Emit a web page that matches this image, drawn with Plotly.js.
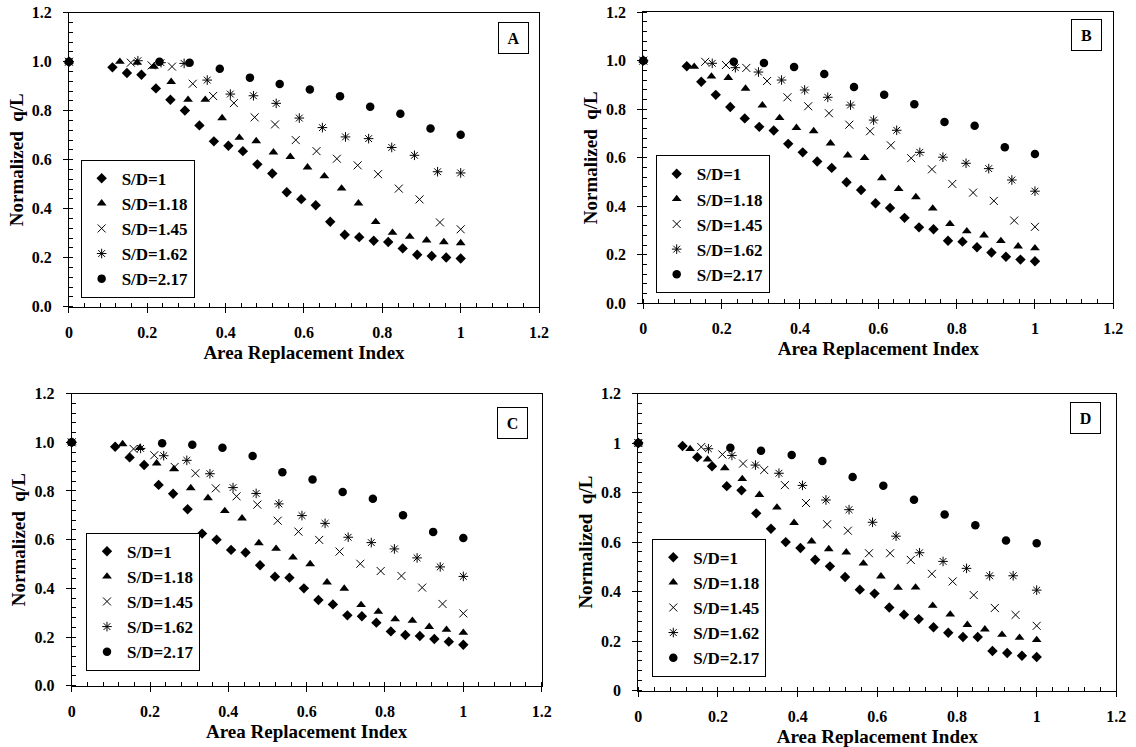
<!DOCTYPE html>
<html>
<head>
<meta charset="utf-8">
<script src="https://cdn.plot.ly/plotly-3.0.1.min.js"></script>
<style>html,body{margin:0;padding:0;background:#fff;}#chart{width:1136px;height:747px;}</style>
</head>
<body>
<div id="chart"></div>
<script>
// ---- series names ----
const seriesNames = ['S/D=1', 'S/D=1.18', 'S/D=1.45', 'S/D=1.62', 'S/D=2.17'];
const panelLabels = ['A', 'B', 'C', 'D'];
const xTitle = 'Area Replacement Index';
const yTitle = 'Normalized  q/L';

// ---- x values (area replacement index) per series ----
const x_SD1 = [0, 0.111, 0.148, 0.185, 0.222, 0.259, 0.296, 0.333, 0.370, 0.407, 0.444, 0.481, 0.519, 0.556, 0.593, 0.630, 0.667, 0.704, 0.741, 0.778, 0.815, 0.852, 0.889, 0.926, 0.963, 1.0];
const x_SD118 = [0, 0.130, 0.174, 0.217, 0.261, 0.304, 0.348, 0.391, 0.435, 0.478, 0.522, 0.565, 0.609, 0.652, 0.696, 0.739, 0.783, 0.826, 0.870, 0.913, 0.957, 1.0];
const x_SD145 = [0, 0.158, 0.211, 0.263, 0.316, 0.368, 0.421, 0.474, 0.526, 0.579, 0.632, 0.684, 0.737, 0.789, 0.842, 0.895, 0.947, 1.0];
const x_SD162 = [0, 0.176, 0.235, 0.294, 0.353, 0.412, 0.471, 0.529, 0.588, 0.647, 0.706, 0.765, 0.824, 0.882, 0.941, 1.0];
const x_SD217 = [0, 0.231, 0.308, 0.385, 0.462, 0.538, 0.615, 0.692, 0.769, 0.846, 0.923, 1.0];

// ---- Panel A: normalized q/L ----
const yA_SD1 = [1, 0.977, 0.954, 0.947, 0.891, 0.845, 0.801, 0.740, 0.675, 0.657, 0.635, 0.581, 0.544, 0.467, 0.439, 0.414, 0.347, 0.294, 0.284, 0.269, 0.264, 0.238, 0.212, 0.207, 0.201, 0.197];
const yA_SD118 = [1, 1.0, 0.996, 0.980, 0.918, 0.845, 0.845, 0.770, 0.690, 0.676, 0.630, 0.612, 0.569, 0.533, 0.483, 0.422, 0.346, 0.302, 0.286, 0.271, 0.264, 0.260];
const yA_SD145 = [1, 0.996, 0.985, 0.980, 0.910, 0.860, 0.831, 0.773, 0.744, 0.680, 0.635, 0.604, 0.577, 0.541, 0.482, 0.438, 0.344, 0.316];
const yA_SD162 = [1, 1.004, 0.996, 0.993, 0.925, 0.868, 0.861, 0.830, 0.770, 0.731, 0.693, 0.686, 0.650, 0.618, 0.551, 0.546];
const yA_SD217 = [1, 1.0, 0.996, 0.971, 0.935, 0.909, 0.887, 0.859, 0.816, 0.788, 0.727, 0.702];

// ---- Panel B ----
const yB_SD1 = [1, 0.977, 0.913, 0.859, 0.809, 0.762, 0.727, 0.712, 0.657, 0.622, 0.584, 0.558, 0.499, 0.467, 0.412, 0.393, 0.352, 0.313, 0.305, 0.258, 0.254, 0.231, 0.209, 0.192, 0.180, 0.173];
const yB_SD118 = [1, 0.975, 0.935, 0.929, 0.885, 0.816, 0.764, 0.723, 0.710, 0.659, 0.610, 0.599, 0.516, 0.471, 0.438, 0.391, 0.327, 0.297, 0.280, 0.257, 0.235, 0.227];
const yB_SD145 = [1, 0.995, 0.982, 0.970, 0.916, 0.849, 0.812, 0.783, 0.736, 0.709, 0.651, 0.598, 0.552, 0.492, 0.456, 0.422, 0.341, 0.315];
const yB_SD162 = [1, 0.989, 0.971, 0.953, 0.920, 0.879, 0.849, 0.817, 0.755, 0.713, 0.622, 0.602, 0.577, 0.555, 0.508, 0.462];
const yB_SD217 = [1, 0.995, 0.990, 0.974, 0.945, 0.891, 0.859, 0.820, 0.747, 0.732, 0.643, 0.615];

// ---- Panel C ----
const yC_SD1 = [1, 0.982, 0.938, 0.907, 0.825, 0.789, 0.725, 0.625, 0.600, 0.558, 0.547, 0.495, 0.448, 0.444, 0.400, 0.352, 0.334, 0.289, 0.285, 0.259, 0.223, 0.208, 0.204, 0.192, 0.181, 0.168];
const yC_SD118 = [1, 0.993, 0.977, 0.914, 0.890, 0.812, 0.771, 0.718, 0.688, 0.586, 0.563, 0.527, 0.500, 0.425, 0.399, 0.332, 0.304, 0.273, 0.267, 0.242, 0.230, 0.218];
const yC_SD145 = [1, 0.973, 0.947, 0.899, 0.873, 0.811, 0.778, 0.744, 0.678, 0.633, 0.599, 0.551, 0.501, 0.471, 0.451, 0.403, 0.336, 0.297];
const yC_SD162 = [1, 0.975, 0.945, 0.926, 0.871, 0.814, 0.790, 0.747, 0.699, 0.667, 0.610, 0.588, 0.562, 0.525, 0.488, 0.449];
const yC_SD217 = [1, 0.996, 0.990, 0.978, 0.944, 0.877, 0.847, 0.796, 0.768, 0.700, 0.632, 0.607];

// ---- Panel D ----
const yD_SD1 = [1, 0.988, 0.943, 0.906, 0.826, 0.809, 0.716, 0.654, 0.600, 0.576, 0.529, 0.502, 0.459, 0.408, 0.392, 0.336, 0.307, 0.289, 0.256, 0.234, 0.217, 0.217, 0.160, 0.152, 0.141, 0.136];
const yD_SD118 = [1, 0.976, 0.934, 0.899, 0.855, 0.791, 0.740, 0.678, 0.603, 0.572, 0.559, 0.514, 0.462, 0.416, 0.417, 0.343, 0.308, 0.266, 0.248, 0.226, 0.214, 0.205];
const yD_SD145 = [1, 0.984, 0.954, 0.917, 0.891, 0.830, 0.758, 0.672, 0.646, 0.555, 0.555, 0.528, 0.472, 0.441, 0.386, 0.334, 0.306, 0.262];
const yD_SD162 = [1, 0.977, 0.950, 0.911, 0.878, 0.829, 0.770, 0.731, 0.680, 0.624, 0.557, 0.522, 0.494, 0.464, 0.464, 0.406];
const yD_SD217 = [1, 0.981, 0.969, 0.952, 0.927, 0.863, 0.828, 0.771, 0.711, 0.668, 0.606, 0.595];

// ---- assemble ----
const xSets = [x_SD1, x_SD118, x_SD145, x_SD162, x_SD217];
const ySets = [
  [yA_SD1, yA_SD118, yA_SD145, yA_SD162, yA_SD217],
  [yB_SD1, yB_SD118, yB_SD145, yB_SD162, yB_SD217],
  [yC_SD1, yC_SD118, yC_SD145, yC_SD162, yC_SD217],
  [yD_SD1, yD_SD118, yD_SD145, yD_SD162, yD_SD217]
];

const FONT = 'Liberation Serif';
const markerStyles = [
  {symbol: 'diamond', size: 8, color: '#000'},
  {symbol: 'triangle-up', size: 8.5, color: '#000'},
  {symbol: 'x-thin-open', size: 8, color: '#000', line: {width: 1, color: '#000'}},
  {symbol: 'asterisk-open', size: 8, color: '#000', line: {width: 1, color: '#000'}},
  {symbol: 'circle', size: 8.5, color: '#000'}
];

// panel geometry (paper fractions)
const panelDom = [
  {x: [0.0607, 0.4745], y: [0.5894, 0.9830]},
  {x: [0.5663, 0.9800], y: [0.5940, 0.9838]},
  {x: [0.0631, 0.4768], y: [0.0821, 0.4730]},
  {x: [0.5619, 0.9827], y: [0.0754, 0.4732]}
];
const legendPos = [
  {x: 0.0710, y: 0.6015},
  {x: 0.5772, y: 0.6074},
  {x: 0.0757, y: 0.1021},
  {x: 0.5742, y: 0.0941}
];
const labelPos = [
  {x: 0.4657, y: 0.9705},
  {x: 0.9698, y: 0.9742},
  {x: 0.4651, y: 0.4556},
  {x: 0.9689, y: 0.4614}
];
const yTickFormats = ['.1f', '.1f', '.1f', ''];

const data = [];
const layout = {
  width: 1136, height: 747,
  margin: {l: 0, r: 0, t: 0, b: 0},
  paper_bgcolor: '#fff', plot_bgcolor: '#fff',
  font: {family: FONT, color: '#000'},
  annotations: []
};

const tickFont = {family: FONT, size: 16, weight: 'bold', color: '#000'};
const titleFont = {family: FONT, size: 19, weight: 'bold', color: '#000'};

for (let p = 0; p < 4; p++) {
  const n = p + 1;
  const xid = n === 1 ? 'x' : 'x' + n;
  const yid = n === 1 ? 'y' : 'y' + n;
  const legId = n === 1 ? 'legend' : 'legend' + n;
  for (let s = 0; s < 5; s++) {
    data.push({
      type: 'scatter', mode: 'markers',
      x: xSets[s], y: ySets[p][s],
      name: seriesNames[s],
      marker: markerStyles[s],
      xaxis: xid, yaxis: yid,
      legend: legId,
      cliponaxis: false,
      hoverinfo: 'x+y+name'
    });
  }
  layout['xaxis' + (n === 1 ? '' : n)] = {
    domain: panelDom[p].x, anchor: yid,
    range: [0, 1.2], tick0: 0, dtick: 0.2,
    ticks: 'outside', ticklen: 5, tickwidth: 1, tickcolor: '#000',
    minor: {dtick: 0.04, ticks: 'inside', ticklen: 4, tickwidth: 1, tickcolor: '#000', showgrid: false},
    showline: true, linecolor: '#000', linewidth: 1, mirror: true,
    showgrid: false, zeroline: false,
    tickfont: tickFont, ticklabelstandoff: 6,
    title: {text: xTitle, font: titleFont, standoff: 5}
  };
  layout['yaxis' + (n === 1 ? '' : n)] = {
    domain: panelDom[p].y, anchor: xid,
    range: [0, 1.2], tick0: 0, dtick: 0.2, tickformat: yTickFormats[p],
    ticks: 'outside', ticklen: 5, tickwidth: 1, tickcolor: '#000',
    minor: {dtick: 0.04, ticks: 'inside', ticklen: 4, tickwidth: 1, tickcolor: '#000', showgrid: false},
    showline: true, linecolor: '#000', linewidth: 1, mirror: true,
    showgrid: false, zeroline: false,
    tickfont: tickFont, ticklabelstandoff: 8,
    title: {text: yTitle, font: titleFont, standoff: 3}
  };
  // overlay axes giving inward half of the major ticks (crossing ticks)
  layout['xaxis' + (n + 4)] = {
    overlaying: xid, anchor: yid, range: [0, 1.2], tick0: 0, dtick: 0.2,
    ticks: 'inside', ticklen: 5, tickwidth: 1, tickcolor: '#000',
    showticklabels: false, showline: false, showgrid: false, zeroline: false
  };
  layout['yaxis' + (n + 4)] = {
    overlaying: yid, anchor: xid, range: [0, 1.2], tick0: 0, dtick: 0.2,
    ticks: 'inside', ticklen: 5, tickwidth: 1, tickcolor: '#000',
    showticklabels: false, showline: false, showgrid: false, zeroline: false
  };
  layout[legId] = {
    x: legendPos[p].x, y: legendPos[p].y, xanchor: 'left', yanchor: 'bottom',
    xref: 'paper', yref: 'paper',
    bgcolor: '#fff', bordercolor: '#000', borderwidth: 1,
    font: {family: FONT, size: 17, weight: 'bold', color: '#000'},
    itemwidth: 30, tracegroupgap: 0
  };
  layout.annotations.push({
    xref: 'paper', yref: 'paper', x: labelPos[p].x, y: labelPos[p].y,
    xanchor: 'right', yanchor: 'top', showarrow: false,
    text: panelLabels[p], font: {family: FONT, size: 16, weight: 'bold', color: '#000'},
    bordercolor: '#000', borderwidth: 1, borderpad: 1, bgcolor: '#fff',
    width: 27, height: 28, align: 'center', valign: 'middle'
  });
}

Plotly.newPlot('chart', data, layout, {displayModeBar: false});
</script>
</body>
</html>
